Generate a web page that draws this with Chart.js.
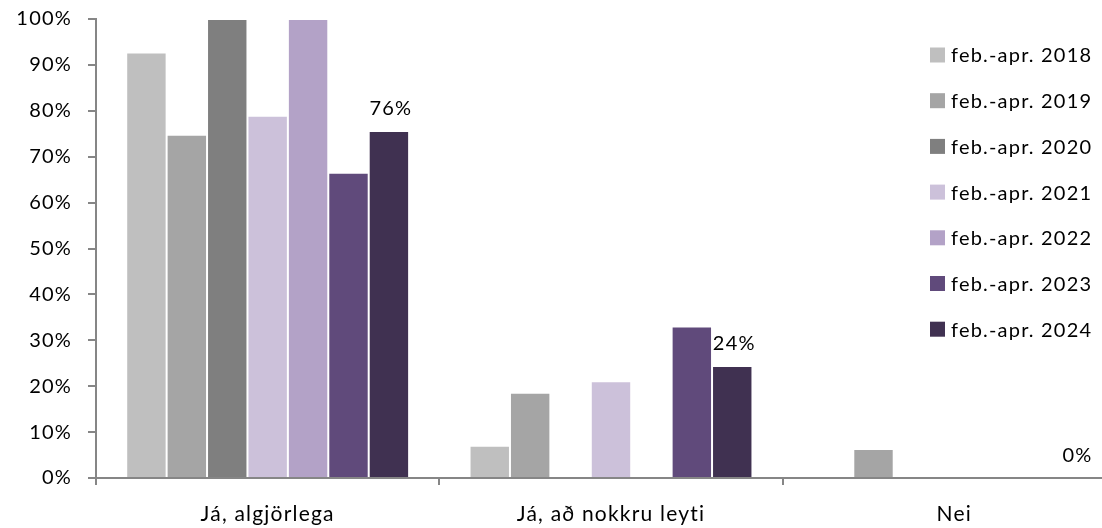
<!DOCTYPE html>
<html>
<head>
<meta charset="utf-8">
<script src="https://cdn.jsdelivr.net/npm/chart.js@4/dist/chart.umd.min.js"></script>
<style>
  html, body { margin: 0; padding: 0; background: #fff; overflow: hidden; }
  #wrap { position: relative; width: 1130px; height: 528px; }
</style>
</head>
<body>
<div id="wrap"><canvas id="chart"></canvas></div>
<script>
const categories = ['Já, algjörlega', 'Já, að nokkru leyti', 'Nei'];
const seriesLabels = ['feb.-apr. 2018', 'feb.-apr. 2019', 'feb.-apr. 2020', 'feb.-apr. 2021', 'feb.-apr. 2022', 'feb.-apr. 2023', 'feb.-apr. 2024'];
const v2018 = [92.7, 7.0, 0];
const v2019 = [74.8, 18.6, 6.3];
const v2020 = [100, 0, 0];
const v2021 = [78.9, 21.1, 0];
const v2022 = [100, 0, 0];
const v2023 = [66.5, 33.0, 0];
const v2024 = [75.6, 24.4, 0];
const colors = ['#bfbfbf', '#a5a5a5', '#7f7f7f', '#ccc1da', '#b3a2c7', '#604a7b', '#403151'];

const FONT = 'Lato, "Open Sans", sans-serif';
const SPACING = '1.2px';

const allValues = [v2018, v2019, v2020, v2021, v2022, v2023, v2024];
const datasets = allValues.map((vals, i) => ({
  label: seriesLabels[i],
  data: vals,
  backgroundColor: colors[i],
  borderColor: 'rgba(255,255,255,0.5)',
  borderWidth: 1,
  categoryPercentage: 0.824,
  barPercentage: 1.0
}));

// letter spacing, set again each time since resize resets the context
const spacingPlugin = {
  id: 'spacing',
  beforeLayout(chart) { chart.ctx.letterSpacing = SPACING; },
  beforeDraw(chart) { chart.ctx.letterSpacing = SPACING; }
};

// value labels on the last series only
const lastLabels = {
  id: 'lastLabels',
  afterDatasetsDraw(chart) {
    const ctx = chart.ctx;
    const meta = chart.getDatasetMeta(6);
    ctx.save();
    ctx.letterSpacing = SPACING;
    ctx.font = '20px ' + FONT;
    ctx.fillStyle = '#000';
    ctx.textAlign = 'center';
    ctx.textBaseline = 'middle';
    meta.data.forEach((bar, i) => {
      ctx.fillText(Math.round(v2024[i]) + '%', bar.x + 2, bar.y - 22);
    });
    ctx.restore();
  }
};

// legend drawn inside the plot, right side
const sideLegend = {
  id: 'sideLegend',
  afterDraw(chart) {
    const ctx = chart.ctx;
    ctx.save();
    ctx.letterSpacing = SPACING;
    ctx.font = '20px ' + FONT;
    ctx.textBaseline = 'middle';
    ctx.textAlign = 'left';
    chart.data.datasets.forEach((ds, i) => {
      const y = 55 + i * 45.7;
      ctx.fillStyle = ds.backgroundColor;
      ctx.fillRect(930, y - 7.5, 15, 15);
      ctx.fillStyle = '#000';
      ctx.fillText(ds.label, 951, y + 1);
    });
    ctx.restore();
  }
};

new Chart(document.getElementById('chart'), {
  type: 'bar',
  data: { labels: categories, datasets: datasets },
  options: {
    responsive: true,
    maintainAspectRatio: false,
    animation: false,
    layout: { padding: { top: 19, right: 4, left: 0, bottom: 0 } },
    plugins: {
      legend: { display: false },
      tooltip: { enabled: false }
    },
    scales: {
      x: {
        grid: {
          display: true,
          offset: true,
          drawOnChartArea: false,
          drawTicks: true,
          tickLength: 7,
          color: '#868686',
          lineWidth: 2
        },
        border: { display: true, color: '#868686', width: 2 },
        ticks: {
          color: '#000',
          padding: 17,
          font: { family: FONT, size: 21 }
        },
        afterFit(scale) { scale.height = 50; }
      },
      y: {
        min: 0,
        max: 100,
        ticks: {
          stepSize: 10,
          color: '#000',
          padding: 16,
          font: { family: FONT, size: 20 },
          callback: v => v + '%'
        },
        grid: {
          display: true,
          drawOnChartArea: false,
          drawTicks: true,
          tickLength: 8,
          color: '#868686',
          lineWidth: 2
        },
        border: { display: true, color: '#868686', width: 2 },
        afterFit(scale) {
          scale.width = 96;
          scale.paddingTop = 0;
          scale.paddingBottom = 0;
        }
      }
    }
  },
  plugins: [spacingPlugin, lastLabels, sideLegend]
});
</script>
</body>
</html>
